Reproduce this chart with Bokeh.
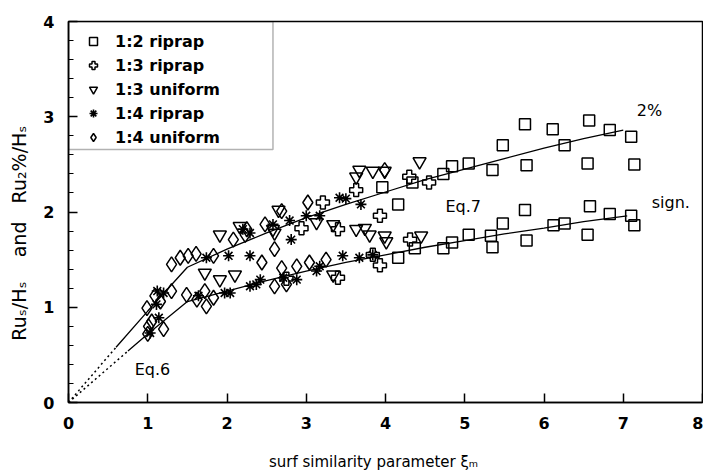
from bokeh.plotting import figure
from bokeh.models import (FixedTicker, Label, Legend, LegendItem, BoxAnnotation)
from bokeh.embed import file_html
from bokeh.resources import INLINE

# ---- data ----
sq_x = [3.96, 4.16, 4.34, 4.73, 4.84, 5.05, 5.35, 5.48, 5.76, 5.78, 6.11, 6.26, 6.55, 6.57, 6.83, 7.10, 7.14,
        5.76, 6.58, 4.16, 4.37, 4.73, 4.84, 5.05, 5.33, 5.35, 5.48, 5.78, 6.12, 6.26, 6.55, 6.83, 7.10, 7.14]
sq_y = [2.26, 2.08, 2.31, 2.40, 2.48, 2.51, 2.44, 2.70, 2.92, 2.49, 2.87, 2.70, 2.51, 2.96, 2.86, 2.79, 2.50,
        2.02, 2.06, 1.52, 1.62, 1.62, 1.68, 1.76, 1.75, 1.63, 1.88, 1.70, 1.86, 1.88, 1.76, 1.98, 1.96, 1.86]

pl_x = [3.21, 3.63, 4.30, 4.55, 3.93, 2.94, 3.40, 4.31, 3.84, 3.93, 3.40, 2.75]
pl_y = [2.10, 2.23, 2.37, 2.31, 1.96, 1.83, 1.82, 1.71, 1.55, 1.44, 1.31, 1.30]

tr_x = [1.91, 2.16, 2.60, 2.65, 3.13, 3.34, 3.63, 3.80, 3.99, 3.63, 3.67, 3.84, 3.99, 4.43, 3.74, 4.01, 4.45,
        1.72, 1.91, 2.10, 3.34, 2.58]
tr_y = [1.76, 1.85, 1.78, 2.02, 1.89, 1.87, 1.82, 1.76, 1.75, 2.37, 2.44, 2.43, 2.43, 2.53, 1.83, 1.69, 1.75,
        1.36, 1.29, 1.34, 1.34, 1.82]

as_x = [3.69, 3.42, 3.50, 3.17, 3.00, 2.79, 2.58, 2.29, 2.20, 2.81, 2.29, 2.02, 1.74,
        2.42, 2.29, 2.04, 1.97, 1.64, 2.37, 3.13, 3.17, 3.46, 3.67, 3.84, 2.88, 2.71, 1.12, 1.11, 1.03, 1.14, 1.20]
as_y = [2.08, 2.15, 2.14, 1.96, 1.96, 1.91, 1.87, 1.78, 1.82, 1.71, 1.54, 1.54, 1.52,
        1.29, 1.22, 1.15, 1.15, 1.12, 1.24, 1.38, 1.43, 1.54, 1.52, 1.55, 1.29, 1.31, 1.17, 1.03, 0.73, 0.89, 1.15]

di_x = [1.30, 1.41, 1.51, 1.61, 0.99, 1.09, 1.16, 1.30, 1.01, 1.20, 1.49, 1.72, 1.83, 1.74, 1.62, 2.44, 2.60,
        2.08, 2.23, 2.75, 2.88, 3.02, 2.60, 2.69, 3.04, 3.25, 2.48, 2.69, 3.99, 1.83, 2.25, 1.05, 1.00]
di_y = [1.45, 1.52, 1.54, 1.56, 0.99, 1.12, 1.06, 1.17, 0.80, 0.77, 1.13, 1.17, 1.10, 1.01, 1.08, 1.47, 1.61,
        1.71, 1.76, 1.24, 1.43, 2.10, 1.22, 1.41, 1.47, 1.50, 1.87, 2.01, 2.44, 1.54, 1.82, 0.85, 0.72]

# fitted curves (Eq.6 / Eq.7)
c2_dot_x = [0.0, 0.6]
c2_dot_y = [0.0, 0.58]
c2_x = [0.6, 1.0, 1.5, 2.0, 2.5, 3.0, 3.5, 4.0, 4.5, 5.0, 5.5, 6.0, 6.5, 7.0]
c2_y = [0.58, 0.96, 1.42, 1.61, 1.78, 1.94, 2.08, 2.21, 2.34, 2.45, 2.56, 2.67, 2.77, 2.86]
cs_dot_x = [0.0, 0.75]
cs_dot_y = [0.0, 0.54]
cs_x = [0.75, 1.0, 1.5, 2.0, 2.5, 3.0, 3.5, 4.0, 4.5, 5.0, 5.5, 6.0, 6.5, 7.05]
cs_y = [0.54, 0.72, 1.06, 1.17, 1.28, 1.38, 1.47, 1.55, 1.63, 1.70, 1.77, 1.83, 1.90, 1.96]

x_ticks = [0, 1, 2, 3, 4, 5, 6, 7, 8]
y_ticks = [0, 1, 2, 3, 4]
y_minor = [0.2, 0.4, 0.6, 0.8, 1.2, 1.4, 1.6, 1.8, 2.2, 2.4, 2.6, 2.8, 3.2, 3.4, 3.6, 3.8]

FONT = "DejaVu Sans"
NB = "\u00a0"

p = figure(frame_width=634, frame_height=381, x_range=(0, 8), y_range=(0, 4),
           output_backend="svg", toolbar_location=None,
           min_border_left=68, min_border_right=1, min_border_top=21, min_border_bottom=56)
p.grid.visible = False
p.outline_line_color = "black"
p.outline_line_width = 1.5
p.background_fill_color = "white"

for ax in (p.xaxis[0], p.yaxis[0]):
    ax.axis_line_width = 1.5
    ax.axis_line_color = "black"
    ax.major_tick_in = 9
    ax.major_tick_out = 0
    ax.minor_tick_in = 5
    ax.minor_tick_out = 0
    ax.major_tick_line_width = 1.5
    ax.minor_tick_line_width = 1.2
    ax.major_label_text_font = FONT
    ax.major_label_text_font_size = "16px"
    ax.major_label_text_font_style = "bold"
    ax.major_label_text_color = "black"
    ax.axis_label_text_font = FONT
    ax.axis_label_text_font_style = "normal"
    ax.axis_label_text_color = "black"

p.xaxis.axis_label_text_font_size = "15px"
p.yaxis.axis_label_text_font_size = "19px"
p.xaxis.ticker = FixedTicker(ticks=x_ticks)
p.yaxis.ticker = FixedTicker(ticks=y_ticks, minor_ticks=y_minor)
p.xaxis.major_label_standoff = 14
p.yaxis.major_label_standoff = 14
p.xaxis.axis_label = "surf similarity parameter \u03be\u2098" + NB * 5
p.yaxis.axis_label = ("Ru\u209b/H\u209b" + NB * 4 + "and" + NB * 3 + "Ru\u2082%/H\u209b" + NB * 7)
p.xaxis.axis_label_standoff = 21
p.yaxis.axis_label_standoff = 10

# curves
p.line(c2_dot_x, c2_dot_y, line_color="black", line_width=1.5, line_dash="2 3")
p.line(cs_dot_x, cs_dot_y, line_color="black", line_width=1.5, line_dash="2 3")
p.line(c2_x, c2_y, line_color="black", line_width=1.3)
p.line(cs_x, cs_y, line_color="black", line_width=1.3)

# markers
common = dict(line_color="black", line_width=1.5, fill_color="white", fill_alpha=0)
r_sq = p.scatter(sq_x, sq_y, marker="square", size=11, **common)
r_pl = p.scatter(pl_x, pl_y, marker="plus", size=13, **common)
r_tr = p.scatter(tr_x, tr_y, marker="inverted_triangle", size=13, **common)
r_as = p.scatter(as_x, as_y, marker="asterisk", size=11, line_color="black", line_width=1.6)
r_di = p.scatter(di_x, di_y, marker="diamond", size=15, **common)

# annotations
lab = dict(text_font=FONT, text_font_size="16px", text_align="center", text_baseline="middle",
           text_color="black")
p.add_layout(Label(x=1.06, y=0.35, text="Eq.6", **lab))
p.add_layout(Label(x=4.98, y=2.06, text="Eq.7", **lab))
p.add_layout(Label(x=7.33, y=3.07, text="2%", **lab))
p.add_layout(Label(x=7.6, y=2.10, text="sign.", **lab))

# legend
p.add_layout(BoxAnnotation(left=0, right=2.58, top=4, bottom=2.655, fill_alpha=0,
                           line_color="black", line_width=1.5))
legend = Legend(items=[
    LegendItem(label="1:2 riprap", renderers=[r_sq]),
    LegendItem(label="1:3 riprap", renderers=[r_pl]),
    LegendItem(label="1:3 uniform", renderers=[r_tr]),
    LegendItem(label="1:4 riprap", renderers=[r_as]),
    LegendItem(label="1:4 uniform", renderers=[r_di]),
], location="top_left", margin=0, padding=10, spacing=4, glyph_width=30, glyph_height=20,
    label_height=20, label_standoff=7, border_line_alpha=0, background_fill_alpha=0,
    label_text_font=FONT, label_text_font_size="16px", label_text_font_style="bold",
    label_text_color="black")
p.add_layout(legend)

open("out.html", "w").write(file_html(p, INLINE))
